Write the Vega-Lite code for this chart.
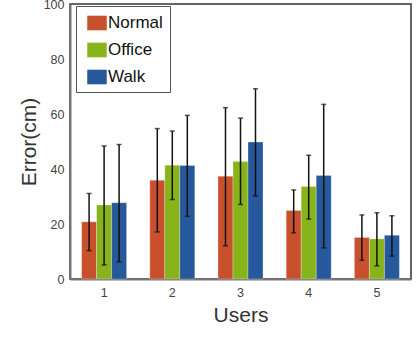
{
  "$schema": "https://vega.github.io/schema/vega-lite/v6.json",
  "width": 341,
  "height": 275,
  "autosize": "none",
  "padding": {"left": 70, "top": 4, "right": 8, "bottom": 58},
  "background": "white",
  "config": {
    "font": "Liberation Sans",
    "view": {"stroke": "#333333", "strokeWidth": 1.5},
    "axis": {
      "ticks": false,
      "grid": false,
      "domainColor": "#777777",
      "domainWidth": 2,
      "labelColor": "#444444",
      "labelFontSize": 12.5,
      "titleColor": "#333333",
      "titleFontSize": 21,
      "titleFontWeight": "normal"
    }
  },
  "data": {
    "values": [
      {"user": "1", "cond": "Normal", "mean": 20.8, "lo": 10.3, "hi": 31.1},
      {"user": "1", "cond": "Office", "mean": 26.9, "lo": 5.1, "hi": 48.4},
      {"user": "1", "cond": "Walk", "mean": 27.7, "lo": 6.3, "hi": 48.9},
      {"user": "2", "cond": "Normal", "mean": 35.9, "lo": 17.1, "hi": 54.7},
      {"user": "2", "cond": "Office", "mean": 41.4, "lo": 28.9, "hi": 53.8},
      {"user": "2", "cond": "Walk", "mean": 41.3, "lo": 22.8, "hi": 59.5},
      {"user": "3", "cond": "Normal", "mean": 37.4, "lo": 12.1, "hi": 62.3},
      {"user": "3", "cond": "Office", "mean": 42.7, "lo": 27.1, "hi": 58.5},
      {"user": "3", "cond": "Walk", "mean": 49.8, "lo": 30.2, "hi": 69.2},
      {"user": "4", "cond": "Normal", "mean": 24.9, "lo": 16.8, "hi": 32.4},
      {"user": "4", "cond": "Office", "mean": 33.6, "lo": 21.8, "hi": 45.0},
      {"user": "4", "cond": "Walk", "mean": 37.6, "lo": 11.3, "hi": 63.5},
      {"user": "5", "cond": "Normal", "mean": 15.1, "lo": 6.8, "hi": 23.3},
      {"user": "5", "cond": "Office", "mean": 14.6, "lo": 4.8, "hi": 24.1},
      {"user": "5", "cond": "Walk", "mean": 15.9, "lo": 8.3, "hi": 23.0}
    ]
  },
  "encoding": {
    "x": {
      "field": "user",
      "type": "nominal",
      "scale": {"paddingInner": 0.34, "paddingOuter": 0.17},
      "axis": {"title": "Users", "labelAngle": 0, "labelPadding": 7, "titlePadding": 6}
    },
    "xOffset": {"field": "cond", "type": "nominal", "scale": {"paddingInner": 0, "paddingOuter": 0}}
  },
  "layer": [
    {
      "mark": {"type": "bar", "stroke": "#ffffff", "strokeOpacity": 0.35, "strokeWidth": 0.8},
      "encoding": {
        "y": {
          "field": "mean",
          "type": "quantitative",
          "scale": {"domain": [0, 100], "nice": false},
          "axis": {"title": "Error(cm)", "values": [0, 20, 40, 60, 80, 100], "labelPadding": 6, "titlePadding": 4}
        },
        "color": {
          "field": "cond",
          "type": "nominal",
          "scale": {"domain": ["Normal", "Office", "Walk"], "range": ["#C9502D", "#87B31B", "#26599B"]},
          "legend": {
            "title": null,
            "orient": "none",
            "legendX": 6,
            "legendY": 2,
            "direction": "vertical",
            "fillColor": "white",
            "strokeColor": "#555555",
            "padding": 7,
            "symbolType": "M-1,-0.75H1V0.75H-1Z",
            "symbolSize": 380,
            "symbolOffset": 4,
            "symbolStrokeWidth": 0,
            "symbolOpacity": 1,
            "labelFontSize": 17,
            "labelColor": "#111111",
            "labelOffset": 1,
            "rowPadding": 9
          }
        }
      }
    },
    {
      "mark": {"type": "rule", "color": "#111111", "strokeWidth": 1.5},
      "encoding": {
        "y": {"field": "lo", "type": "quantitative"},
        "y2": {"field": "hi"}
      }
    },
    {
      "mark": {"type": "tick", "color": "#111111", "size": 5, "thickness": 1.5},
      "encoding": {"y": {"field": "lo", "type": "quantitative"}}
    },
    {
      "mark": {"type": "tick", "color": "#111111", "size": 5, "thickness": 1.5},
      "encoding": {"y": {"field": "hi", "type": "quantitative"}}
    }
  ]
}
